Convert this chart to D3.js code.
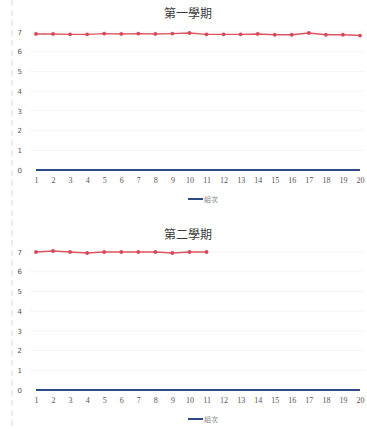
<!DOCTYPE html>
<html>
<head>
<meta charset="utf-8">
<script src="https://cdn.jsdelivr.net/npm/d3@7"></script>
<style>
  html, body { margin: 0; padding: 0; background: #ffffff; }
  svg { display: block; }
</style>
</head>
<body>
<svg id="chart" width="367" height="429"></svg>
<script>
// Group numbers along the x axis
const groups = d3.range(1, 21);
const yTicks = [0, 1, 2, 3, 4, 5, 6, 7];

// First term: scores per group (red) and baseline series (blue)
const term1Title = "第一學期";
const term1Scores = [6.9, 6.9, 6.88, 6.88, 6.92, 6.9, 6.92, 6.9, 6.92, 6.95,
                     6.88, 6.88, 6.88, 6.9, 6.86, 6.86, 6.95, 6.86, 6.86, 6.82];
const term1Base = [0, 0, 0, 0, 0, 0, 0, 0, 0, 0, 0, 0, 0, 0, 0, 0, 0, 0, 0, 0];

// Second term: only the first groups have scores so far
const term2Title = "第二學期";
const term2Scores = [7.0, 7.05, 7.0, 6.95, 7.0, 7.0, 7.0, 7.0, 6.95, 7.0, 7.0];
const term2Base = [0, 0, 0, 0, 0, 0, 0, 0, 0, 0, 0, 0, 0, 0, 0, 0, 0, 0, 0, 0];

const legendLabel = "組次";

const svg = d3.select("#chart");

// faint margin rule at the left edge
svg.append("line")
  .attr("x1", 12).attr("x2", 12).attr("y1", 0).attr("y2", 429)
  .attr("stroke", "#dadada").attr("stroke-width", 1)
  .attr("stroke-dasharray", "6,4");

function drawPanel(cfg) {
  const g = svg.append("g");
  const x = d3.scaleLinear().domain([1, 20]).range([36, 360]);
  const y = d3.scaleLinear().domain([0, 7]).range([cfg.y0, cfg.y0 - 138]);

  // title
  g.append("text")
    .attr("x", 188).attr("y", cfg.titleY)
    .attr("text-anchor", "middle")
    .attr("font-family", "'Noto Sans CJK TC', 'Noto Sans CJK SC', sans-serif")
    .attr("font-size", 12)
    .attr("fill", "#3a3a3a")
    .text(cfg.title);

  // faint gridlines
  g.append("g")
    .selectAll("line")
    .data(yTicks.filter(d => d > 0))
    .join("line")
    .attr("x1", 30).attr("x2", 364)
    .attr("y1", d => y(d)).attr("y2", d => y(d))
    .attr("stroke", "#f5f5f5").attr("stroke-width", 1);

  // y axis labels
  const yAxis = d3.axisLeft(y).tickValues(yTicks).tickFormat(d3.format("d")).tickSize(0).tickPadding(0);
  const ya = g.append("g").attr("transform", "translate(22,0)").call(yAxis);
  ya.select(".domain").remove();
  ya.selectAll("text")
    .attr("font-family", "'DejaVu Sans', sans-serif")
    .attr("font-size", 7)
    .attr("fill", "#555");

  // x axis labels
  const xAxis = d3.axisBottom(x).tickValues(groups).tickFormat(d3.format("d")).tickSize(0).tickPadding(0);
  const xa = g.append("g").attr("transform", `translate(0,${cfg.y0 + 7})`).call(xAxis);
  xa.select(".domain").remove();
  xa.selectAll("text")
    .attr("font-family", "'Liberation Serif', serif")
    .attr("font-size", 8)
    .attr("fill", "#555");

  const line = d3.line().x((d, i) => x(i + 1)).y(d => y(d));

  // baseline series
  g.append("path")
    .datum(cfg.base)
    .attr("d", line)
    .attr("fill", "none")
    .attr("stroke", "#2c4a86")
    .attr("stroke-width", 1.8);

  // score series
  g.append("path")
    .datum(cfg.scores)
    .attr("d", line)
    .attr("fill", "none")
    .attr("stroke", "#dc5562")
    .attr("stroke-width", 1.4);

  g.append("g")
    .selectAll("circle")
    .data(cfg.scores)
    .join("circle")
    .attr("cx", (d, i) => x(i + 1))
    .attr("cy", d => y(d))
    .attr("r", 1.9)
    .attr("fill", "#d94858");

  // legend
  g.append("line")
    .attr("x1", 188).attr("x2", 203)
    .attr("y1", cfg.legendY).attr("y2", cfg.legendY)
    .attr("stroke", "#2c4a86").attr("stroke-width", 2);
  g.append("text")
    .attr("x", 204).attr("y", cfg.legendY + 3)
    .attr("font-family", "'Noto Sans CJK TC', sans-serif")
    .attr("font-size", 7)
    .attr("fill", "#888")
    .text(legendLabel);
}

drawPanel({ title: term1Title, scores: term1Scores, base: term1Base, y0: 170, titleY: 18, legendY: 199 });
drawPanel({ title: term2Title, scores: term2Scores, base: term2Base, y0: 390, titleY: 239, legendY: 419 });
</script>
</body>
</html>
